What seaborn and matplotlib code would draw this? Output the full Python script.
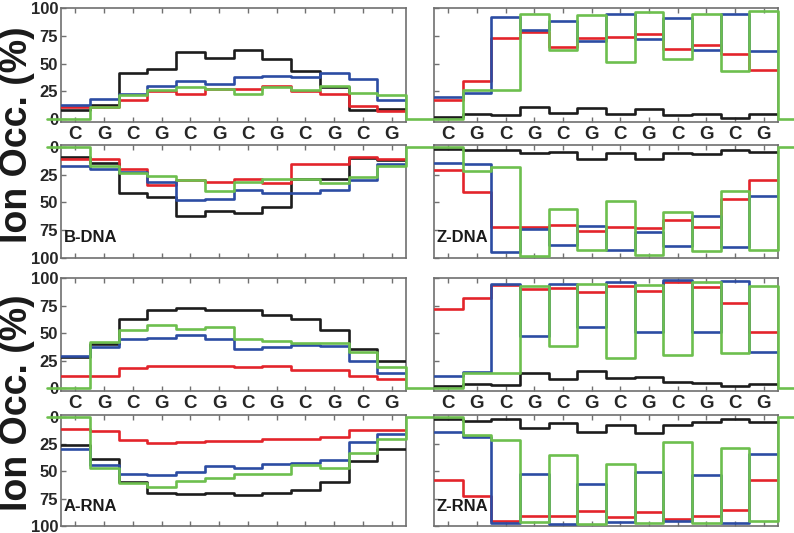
import matplotlib
matplotlib.use("Agg")
import matplotlib.pyplot as plt
import seaborn as sns
import numpy as np

sns.set_theme(style="white")
plt.rcParams['font.family'] = ['Liberation Sans', 'DejaVu Sans']

bases = ['C', 'G', 'C', 'G', 'C', 'G', 'C', 'G', 'C', 'G', 'C', 'G']
yticks = [0, 25, 50, 75, 100]
ytick_labels = ['0', '25', '50', '75', '100']

# B-DNA strand 1 (top, row 1 left)
bdna1_black = [8, 13, 42, 45, 60, 55, 62, 54, 43, 29, 8, 9]
bdna1_red   = [11, 11, 17, 25, 23, 27, 27, 30, 25, 23, 12, 7]
bdna1_blue  = [13, 18, 23, 30, 34, 32, 38, 39, 38, 42, 36, 17]
bdna1_green = [0, 11, 22, 26, 29, 27, 23, 29, 26, 30, 24, 22]
# B-DNA strand 2 (row 2 left, inverted)
bdna2_black = [9, 15, 42, 45, 62, 58, 60, 54, 29, 29, 10, 12]
bdna2_red   = [11, 11, 20, 34, 30, 32, 29, 33, 16, 16, 9, 11]
bdna2_blue  = [17, 20, 23, 32, 48, 47, 39, 42, 42, 39, 30, 16]
bdna2_green = [0, 17, 24, 26, 30, 40, 32, 29, 29, 33, 27, 17]
# Z-DNA strand 1 (row 1 right)
zdna1_black = [2, 5, 4, 11, 6, 10, 5, 9, 4, 5, 1, 5]
zdna1_red   = [17, 34, 73, 78, 65, 73, 74, 77, 63, 67, 59, 44]
zdna1_blue  = [20, 24, 92, 80, 88, 70, 95, 72, 91, 62, 95, 61]
zdna1_green = [0, 26, 26, 95, 62, 94, 51, 96, 54, 95, 43, 97]
# Z-DNA strand 2 (row 2 right, inverted)
zdna2_black = [2, 3, 3, 6, 5, 11, 6, 11, 6, 7, 3, 5]
zdna2_red   = [21, 41, 72, 72, 70, 76, 72, 73, 66, 72, 47, 30]
zdna2_blue  = [15, 16, 95, 74, 88, 71, 93, 77, 89, 62, 90, 44]
zdna2_green = [0, 22, 18, 98, 56, 93, 49, 97, 59, 94, 40, 93]
# A-RNA strand 1 (row 3 left)
arna1_black = [28, 40, 63, 71, 73, 71, 71, 66, 63, 53, 36, 25]
arna1_red   = [11, 11, 18, 20, 20, 20, 19, 20, 17, 17, 11, 8]
arna1_blue  = [29, 37, 45, 46, 48, 45, 36, 37, 39, 38, 25, 14]
arna1_green = [0, 42, 53, 57, 54, 56, 45, 43, 41, 41, 33, 19]
# A-RNA strand 2 (row 4 left, inverted)
arna2_black = [26, 39, 60, 70, 71, 70, 72, 70, 67, 60, 41, 30]
arna2_red   = [11, 13, 21, 24, 23, 22, 22, 20, 20, 19, 12, 12]
arna2_blue  = [30, 44, 52, 53, 51, 45, 47, 43, 42, 40, 23, 16]
arna2_green = [0, 47, 61, 64, 59, 56, 52, 52, 44, 47, 33, 20]
# Z-RNA strand 1 (row 3 right)
zrna1_black = [2, 4, 3, 14, 8, 16, 9, 10, 6, 5, 2, 4]
zrna1_red   = [72, 82, 94, 90, 91, 87, 93, 88, 96, 92, 77, 51]
zrna1_blue  = [11, 15, 95, 47, 95, 56, 96, 51, 98, 51, 97, 33]
zrna1_green = [0, 14, 14, 93, 38, 95, 27, 94, 30, 96, 32, 93]
# Z-RNA strand 2 (row 4 right, inverted)
zrna2_black = [2, 4, 2, 10, 6, 14, 8, 15, 8, 5, 2, 5]
zrna2_red   = [58, 73, 95, 91, 91, 86, 92, 87, 94, 91, 85, 58]
zrna2_blue  = [14, 19, 97, 52, 98, 62, 96, 51, 95, 53, 97, 34]
zrna2_green = [0, 17, 21, 96, 35, 98, 43, 97, 23, 97, 29, 95]

panel_labels = ['B-DNA', 'Z-DNA', 'A-RNA', 'Z-RNA']
colors = {'black': '#1c1c1c', 'red': '#e3242b', 'blue': '#2c4ca3', 'green': '#6dbf4e'}

panels = [
    # (row, col, inverted, data, label)
    (0, 0, False, (bdna1_black, bdna1_red, bdna1_blue, bdna1_green), None),
    (1, 0, True,  (bdna2_black, bdna2_red, bdna2_blue, bdna2_green), panel_labels[0]),
    (0, 1, False, (zdna1_black, zdna1_red, zdna1_blue, zdna1_green), None),
    (1, 1, True,  (zdna2_black, zdna2_red, zdna2_blue, zdna2_green), panel_labels[1]),
    (2, 0, False, (arna1_black, arna1_red, arna1_blue, arna1_green), None),
    (3, 0, True,  (arna2_black, arna2_red, arna2_blue, arna2_green), panel_labels[2]),
    (2, 1, False, (zrna1_black, zrna1_red, zrna1_blue, zrna1_green), None),
    (3, 1, True,  (zrna2_black, zrna2_red, zrna2_blue, zrna2_green), panel_labels[3]),
]

W, H = 794, 533
fig = plt.figure(figsize=(W / 100, H / 100), dpi=100)

row_px = [(8, 122), (145, 258), (278, 391), (415, 526)]
col_px = [(61, 406), (434, 778)]

spine_color = '#707070'
n = len(bases)
edges = np.arange(n + 1) + 0.5

for row, col, inv, data, label in panels:
    t, b = row_px[row]
    l, r = col_px[col]
    ax = fig.add_axes([l / W, 1 - b / H, (r - l) / W, (b - t) / H])
    for name, vals in zip(['black', 'red', 'blue', 'green'], data):
        if name == 'green':
            if col == 0:
                xs = np.concatenate([[0.0], edges, [13.5]])
                ys = [0] + list(vals) + [0, 0]
            else:
                xs = np.concatenate([edges, [13.5]])
                ys = list(vals) + [0, 0]
            sns.lineplot(x=xs, y=ys, ax=ax, color=colors[name], lw=1.9,
                         drawstyle='steps-post', clip_on=False, sort=False,
                         estimator=None, zorder=5)
        else:
            xs = edges
            ys = list(vals) + [vals[-1]]
            sns.lineplot(x=xs, y=ys, ax=ax, color=colors[name], lw=1.9,
                         drawstyle='steps-post', sort=False, estimator=None,
                         zorder=3 + ['black', 'red', 'blue'].index(name) * 0.1)
    ax.set_xlim(0.5, 12.5)
    if inv:
        ax.set_ylim(100, -1.5)
    else:
        ax.set_ylim(-2.5, 100)
    ax.set_xticks(np.arange(1, n + 1))
    if not inv:
        ax.set_xticklabels(bases, fontsize=13.5, fontweight='bold')
    else:
        ax.set_xticklabels([])
    ax.set_yticks(yticks)
    if col == 0:
        ax.set_yticklabels(ytick_labels, fontsize=12, fontweight='bold')
    else:
        ax.set_yticklabels([])
    ax.tick_params(axis='x', direction='in', top=True, bottom=True, length=3.5,
                   width=1, color=spine_color, pad=3)
    ax.tick_params(axis='y', direction='in', left=True, right=False, length=3.5,
                   width=1, color=spine_color, pad=2)
    for s in ax.spines.values():
        s.set_color(spine_color)
        s.set_linewidth(1.2)
    ax.set_xlabel('')
    ax.set_ylabel('')
    if label:
        ax.text(0.008, 0.18, label, transform=ax.transAxes, fontsize=12,
                fontweight='bold', va='center', ha='left', color='#1a1a1a',
                zorder=10)

for yc in (135, 403):
    fig.text(17 / W, 1 - yc / H, 'Ion Occ. (%)', rotation=90, fontsize=27,
             fontweight='bold', ha='center', va='center', color='#1a1a1a')

fig.savefig('out.png', dpi=100)
